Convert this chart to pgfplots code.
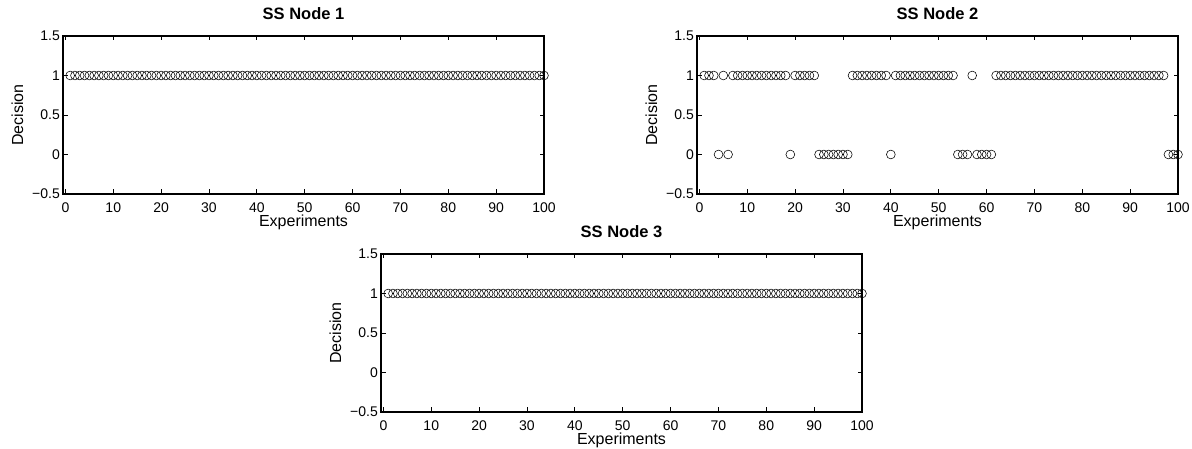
\documentclass[border=0pt]{standalone}
\usepackage{fontspec}
\setmainfont{Liberation Sans}
\usepackage{pgfplots}
\usepackage{pgfplotstable}
\pgfplotsset{compat=1.18}

% x, decision of node 1, node 2, node 3
\pgfplotstableread[row sep=\\]{
x n1 n2 n3\\
1 1 1 1\\ 2 1 1 1\\ 3 1 1 1\\ 4 1 0 1\\ 5 1 1 1\\ 6 1 0 1\\ 7 1 1 1\\ 8 1 1 1\\ 9 1 1 1\\ 10 1 1 1\\
11 1 1 1\\ 12 1 1 1\\ 13 1 1 1\\ 14 1 1 1\\ 15 1 1 1\\ 16 1 1 1\\ 17 1 1 1\\ 18 1 1 1\\ 19 1 0 1\\ 20 1 1 1\\
21 1 1 1\\ 22 1 1 1\\ 23 1 1 1\\ 24 1 1 1\\ 25 1 0 1\\ 26 1 0 1\\ 27 1 0 1\\ 28 1 0 1\\ 29 1 0 1\\ 30 1 0 1\\
31 1 0 1\\ 32 1 1 1\\ 33 1 1 1\\ 34 1 1 1\\ 35 1 1 1\\ 36 1 1 1\\ 37 1 1 1\\ 38 1 1 1\\ 39 1 1 1\\ 40 1 0 1\\
41 1 1 1\\ 42 1 1 1\\ 43 1 1 1\\ 44 1 1 1\\ 45 1 1 1\\ 46 1 1 1\\ 47 1 1 1\\ 48 1 1 1\\ 49 1 1 1\\ 50 1 1 1\\
51 1 1 1\\ 52 1 1 1\\ 53 1 1 1\\ 54 1 0 1\\ 55 1 0 1\\ 56 1 0 1\\ 57 1 1 1\\ 58 1 0 1\\ 59 1 0 1\\ 60 1 0 1\\
61 1 0 1\\ 62 1 1 1\\ 63 1 1 1\\ 64 1 1 1\\ 65 1 1 1\\ 66 1 1 1\\ 67 1 1 1\\ 68 1 1 1\\ 69 1 1 1\\ 70 1 1 1\\
71 1 1 1\\ 72 1 1 1\\ 73 1 1 1\\ 74 1 1 1\\ 75 1 1 1\\ 76 1 1 1\\ 77 1 1 1\\ 78 1 1 1\\ 79 1 1 1\\ 80 1 1 1\\
81 1 1 1\\ 82 1 1 1\\ 83 1 1 1\\ 84 1 1 1\\ 85 1 1 1\\ 86 1 1 1\\ 87 1 1 1\\ 88 1 1 1\\ 89 1 1 1\\ 90 1 1 1\\
91 1 1 1\\ 92 1 1 1\\ 93 1 1 1\\ 94 1 1 1\\ 95 1 1 1\\ 96 1 1 1\\ 97 1 1 1\\ 98 1 0 1\\ 99 1 0 1\\ 100 1 0 1\\
}\decisions

\pgfplotsset{
  ssaxis/.style={
    scale only axis,
    width=481pt, height=158pt,
    anchor=south west,
    xmin=-0.5, xmax=100,
    ymin=-0.5, ymax=1.5,
    xtick={0,10,...,100},
    ytick={-0.5,0,0.5,1,1.5},
    yticklabels={−0.5,0,0.5,1,1.5},
    /pgf/number format/assume math mode=true,
    tick align=inside,
    major tick length=4.5pt,
    axis line style={line width=1.1pt},
    tick style={line width=0.7pt, black},
    ticklabel style={font=\fontsize{14}{16}\selectfont},
    xticklabel style={anchor=base, yshift=-19pt, inner sep=0pt},
    yticklabel style={anchor=east, inner sep=0pt, xshift=-3pt},
    xlabel={Experiments},
    ylabel={Decision},
    label style={font=\fontsize{16}{18}\selectfont},
    xlabel style={at={(axis description cs:0.5,0)}, anchor=base, yshift=-33pt, inner sep=0pt},
    ylabel style={at={(axis description cs:0,0.5)}, anchor=center, rotate=0, yshift=45.5pt, inner sep=0pt},
    title style={font=\fontsize{16.5}{18}\selectfont\bfseries, at={(axis description cs:0.5,1)}, anchor=base, yshift=10pt, inner sep=0pt},
  },
  ssmark/.style={only marks, mark=o, mark size=4.4pt, black, mark options={line width=0.55pt}},
}

\begin{document}
\begin{tikzpicture}
\useasboundingbox (0,0) rectangle (1192pt,449pt);

\begin{axis}[ssaxis, at={(63pt,255pt)}, title={SS Node 1}]
\addplot[ssmark] table[x=x, y=n1] {\decisions};
\end{axis}

\begin{axis}[ssaxis, at={(697pt,255pt)}, title={SS Node 2}]
\addplot[ssmark] table[x=x, y=n2] {\decisions};
\end{axis}

\begin{axis}[ssaxis, at={(381pt,37pt)}, title={SS Node 3}]
\addplot[ssmark] table[x=x, y=n3] {\decisions};
\end{axis}
\end{tikzpicture}
\end{document}
